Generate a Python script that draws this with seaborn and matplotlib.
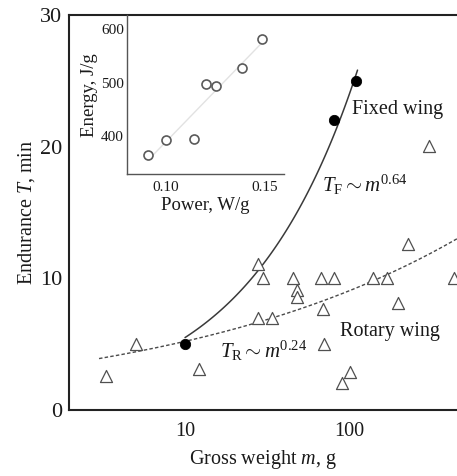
import numpy as np
import pandas as pd
import matplotlib
matplotlib.use("Agg")
import matplotlib.pyplot as plt
from matplotlib.ticker import MultipleLocator, LogLocator, FixedLocator, NullFormatter, FixedFormatter
import seaborn as sns

sns.set_theme(style="white")
plt.rcParams['font.family'] = ['Liberation Serif', 'DejaVu Serif']
plt.rcParams['mathtext.fontset'] = 'custom'
plt.rcParams['mathtext.rm'] = 'Liberation Serif'
plt.rcParams['mathtext.it'] = 'Liberation Serif:italic'

# ---- data ----
rotary_m = [3.3, 5.0, 12.2, 27.7, 29.7, 45.6, 67.3, 80.0, 138.6, 168.6, 430.0,
            47.9, 47.9, 27.9, 33.7, 68.9, 196.8, 228.5, 70.5, 100.9, 90.6, 302.7]
rotary_T = [2.6, 5.05, 3.1, 11.1, 10.0, 10.0, 10.0, 10.0, 10.0, 10.0, 10.0,
            9.1, 8.6, 7.0, 7.0, 7.65, 8.1, 12.6, 5.05, 2.85, 2.05, 20.05]
fixed_m = [10.0, 80.0, 109.8]
fixed_T = [5.0, 22.0, 25.0]

# power-law fits T = a * m^b
fixed_fit_a, fixed_fit_b = 1.26, 0.64
fixed_fit_range = [10.0, 112.0]
rotary_fit_a, rotary_fit_b = 3.0, 0.24
rotary_fit_range = [3.0, 460.0]

inset_power = [0.0912, 0.1000, 0.1144, 0.1201, 0.1252, 0.1386, 0.1487]
inset_energy = [364, 392, 394, 497, 494, 528, 582]

x_ticks = [10, 100]
y_ticks = [0, 10, 20, 30]
inset_xticks = [0.10, 0.15]
inset_yticks = [400, 500, 600]

txt = '#1a1a1a'
W, H = 457, 476
fig = plt.figure(figsize=(W / 100, H / 100), dpi=100)
ax = fig.add_axes([69 / W, (H - 410) / H, (457 - 69) / W, (410 - 15) / H])

# fit curves
mf = np.geomspace(*fixed_fit_range, 100)
df_f = pd.DataFrame({'m': mf, 'T': fixed_fit_a * mf ** fixed_fit_b})
mr = np.geomspace(*rotary_fit_range, 200)
df_r = pd.DataFrame({'m': mr, 'T': rotary_fit_a * mr ** rotary_fit_b})
sns.lineplot(data=df_f, x='m', y='T', ax=ax, color='#3a3a3a', lw=1.1, zorder=2)
sns.lineplot(data=df_r, x='m', y='T', ax=ax, color='#4a4a4a', lw=1.0,
             linestyle=(0, (2.5, 1.6)), zorder=2)

sns.scatterplot(x=rotary_m, y=rotary_T, ax=ax, marker='^', s=75,
                facecolor='white', edgecolor='#505050', linewidth=0.9, zorder=3)
sns.scatterplot(x=fixed_m, y=fixed_T, ax=ax, marker='o', s=55,
                color='black', edgecolor='black', zorder=4)

ax.set_xscale('log')
ax.set_xlim(1.97, 451)
ax.set_ylim(0, 30)
ax.xaxis.set_major_locator(FixedLocator(x_ticks))
ax.xaxis.set_major_formatter(FixedFormatter([str(v) for v in x_ticks]))
ax.xaxis.set_minor_locator(LogLocator(base=10, subs=np.arange(2, 10)))
ax.xaxis.set_minor_formatter(NullFormatter())
ax.yaxis.set_major_locator(FixedLocator(y_ticks))
ax.yaxis.set_minor_locator(MultipleLocator(2.5))
ax.tick_params(axis='both', which='both', direction='in', color='#222222')
ax.tick_params(axis='x', which='major', length=7, width=1.2, labelsize=14.5, pad=9, labelcolor=txt)
ax.tick_params(axis='x', which='minor', length=5, width=1.0)
ax.tick_params(axis='y', which='major', length=9, width=1.2, labelsize=16, pad=5, labelcolor=txt)
ax.tick_params(axis='y', which='minor', length=6, width=1.0)
for s in ['left', 'bottom', 'top']:
    ax.spines[s].set_linewidth(1.5)
    ax.spines[s].set_color('#222222')
ax.spines['right'].set_visible(False)

ax.set_xlabel('Gross weight $m$, g', fontsize=14.5, color=txt, labelpad=5)
ax.set_ylabel('Endurance $T$, min', fontsize=14.5, color=txt, labelpad=2)

ax.text(103.9, 22.5, 'Fixed wing', fontsize=14.5, color=txt, va='baseline')
ax.text(87.7, 5.6, 'Rotary wing', fontsize=14.5, color=txt, va='baseline')
ax.text(67.9, 16.6, r'$T_{\mathrm{F}} \sim m^{0.64}$', fontsize=15, color=txt, va='baseline')
ax.text(16.3, 4.0, r'$T_{\mathrm{R}} \sim m^{0.24}$', fontsize=15, color=txt, va='baseline')

# inset
ax2 = fig.add_axes([126.7 / W, (H - 174.3) / H, (284.3 - 126.7) / W, (174.3 - 15) / H])
ax2.patch.set_alpha(0)
df_i = pd.DataFrame({'power': inset_power, 'energy': inset_energy})
sns.regplot(data=df_i, x='power', y='energy', ax=ax2, ci=None, truncate=True,
            scatter=False, line_kws=dict(color='#e2e2e2', lw=1.0))
sns.scatterplot(data=df_i, x='power', y='energy', ax=ax2, marker='o', s=42,
                facecolor='white', edgecolor='#5a5a5a', linewidth=1.2, zorder=3)
ax2.set_xlim(0.0804, 0.1597)
ax2.set_ylim(328, 627)
ax2.xaxis.set_major_locator(FixedLocator(inset_xticks))
ax2.xaxis.set_major_formatter(FixedFormatter(['%.2f' % v for v in inset_xticks]))
ax2.xaxis.set_minor_locator(MultipleLocator(0.025))
ax2.yaxis.set_major_locator(FixedLocator(inset_yticks))
ax2.yaxis.set_minor_locator(MultipleLocator(50))
ax2.tick_params(axis='both', which='both', direction='in', color='#555555')
ax2.tick_params(axis='both', which='major', length=4, width=0.9, labelsize=11, labelcolor=txt)
ax2.tick_params(axis='both', which='minor', length=3, width=0.8)
ax2.tick_params(axis='y', which='major', pad=2)
ax2.tick_params(axis='x', which='major', pad=5)
for s in ['top', 'right']:
    ax2.spines[s].set_visible(False)
for s in ['left', 'bottom']:
    ax2.spines[s].set_linewidth(1.0)
    ax2.spines[s].set_color('#555555')
ax2.set_xlabel('Power, W/g', fontsize=13.5, color=txt, labelpad=2)
ax2.set_ylabel('Energy, J/g', fontsize=13.5, color=txt, labelpad=2)

fig.savefig('out.png', dpi=100)
